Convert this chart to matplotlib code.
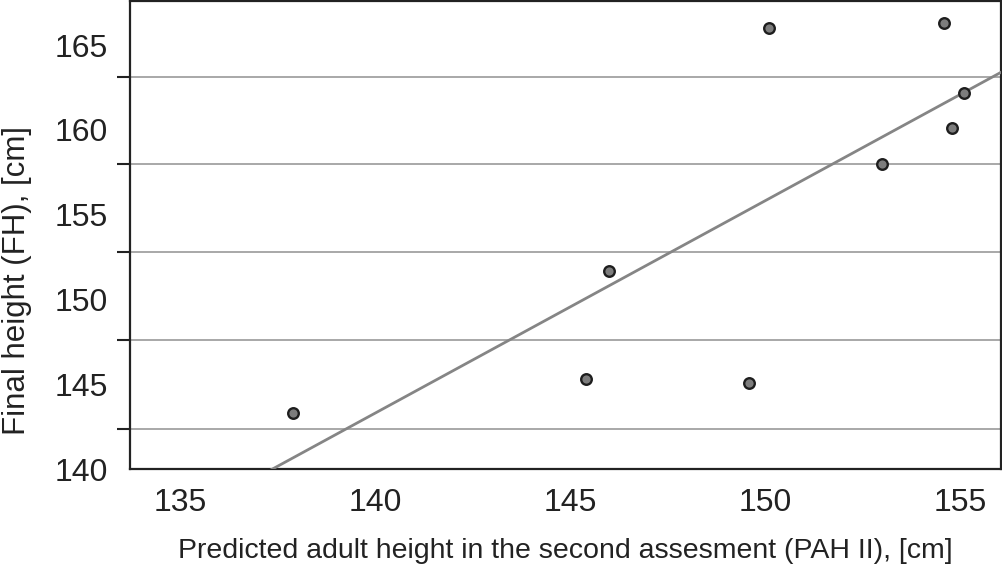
import numpy as np
import matplotlib
matplotlib.use('Agg')
import matplotlib.pyplot as plt
from matplotlib.ticker import FixedLocator

plt.rcParams['font.family'] = ['Liberation Sans', 'DejaVu Sans']

# values
pah2 = [137.9, 145.4, 146.0, 149.6, 150.1, 153.0, 154.6, 154.8, 155.1]
final_h = [143.3, 145.3, 151.7, 145.1, 166.0, 158.0, 166.3, 160.1, 162.2]
y_labels = [140, 145, 150, 155, 160, 165]
x_labels = [135, 140, 145, 150, 155]
grid_levels = [142.36, 147.6, 152.79, 157.98, 163.15]

fig = plt.figure(figsize=(10.03, 5.73), dpi=100)
ax = fig.add_axes([0.1296, 0.1815, 0.8684, 0.8165])

slope, intercept = np.polyfit(pah2, final_h, 1)
xmin, xmax = 133.72, 156.05
fx = np.array([xmin, xmax])
ax.plot(fx, slope * fx + intercept, color='#858585', lw=2.0, zorder=3)

ax.scatter(pah2, final_h, s=58, facecolor='#7d7d7d', edgecolor='#1e1e1e',
           linewidth=1.7, zorder=4)

ax.set_xlim(xmin, xmax)
ax.set_ylim(140, 167.6)

ax.set_xticks(x_labels)
ax.set_yticks(y_labels)
ax.yaxis.set_minor_locator(FixedLocator(grid_levels))
ax.tick_params(axis='both', which='major', length=0, labelsize=23, colors='#222222')
ax.tick_params(axis='x', pad=14)
ax.tick_params(axis='y', pad=16)
ax.tick_params(axis='y', which='minor', length=9.5, width=1.5, color='#222222')
ax.grid(axis='y', which='minor', color='#a8a8a8', lw=1.4)

for s in ax.spines.values():
    s.set_color('#222222')
    s.set_linewidth(1.6)

ax.set_xlabel('Predicted adult height in the second assesment (PAH II), [cm]',
              fontsize=20.5, color='#222222', labelpad=14)
ax.set_ylabel('Final height (FH), [cm]', fontsize=22.5, color='#222222')
ax.yaxis.set_label_coords(-0.113, 0.402)

fig.savefig('out.png', dpi=100)
